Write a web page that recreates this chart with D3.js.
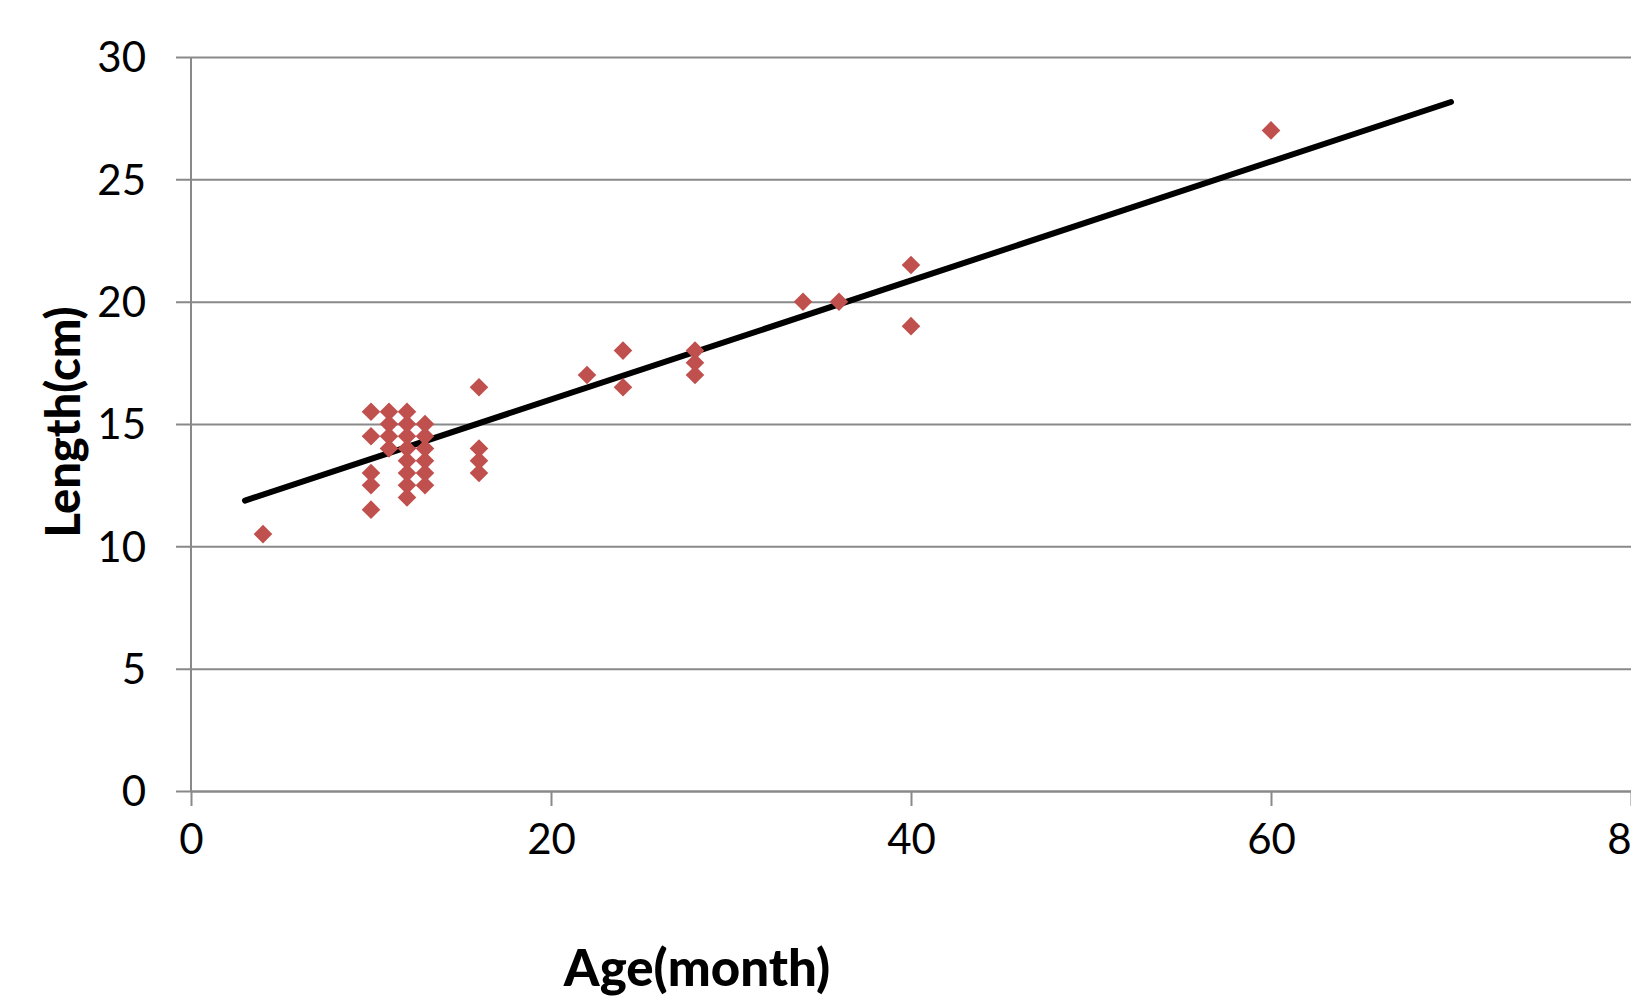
<!DOCTYPE html>
<html>
<head>
<meta charset="utf-8">
<script src="https://cdn.jsdelivr.net/npm/d3@7"></script>
<style>
  body { margin: 0; background: #fff; }
  svg text { font-family: Lato, "Open Sans", sans-serif; fill: #000; }
</style>
</head>
<body>
<div id="chart"></div>
<script>
// age (months) and length (cm) per fish
const ages = [4,
  10, 10, 10, 10, 10,
  11, 11, 11, 11,
  12, 12, 12, 12, 12, 12, 12, 12,
  13, 13, 13, 13, 13, 13,
  16, 16, 16, 16,
  22, 24, 24, 28, 28, 28, 34, 36, 40, 40, 60];
const lengths = [10.5,
  15.5, 14.5, 13, 12.5, 11.5,
  15.5, 15, 14.5, 14,
  15.5, 15, 14.5, 14, 13.5, 13, 12.5, 12,
  15, 14.5, 14, 13.5, 13, 12.5,
  16.5, 14, 13.5, 13,
  17, 18, 16.5, 18, 17.5, 17, 20, 20, 21.5, 19, 27];

// linear trendline, drawn from x = 3 to x = 70
const trendX = [3, 70];
const trendY = [11.87, 28.16];

const xTicks = [0, 20, 40, 60, 80];
const yTicks = [0, 5, 10, 15, 20, 25, 30];

const W = 1631, H = 997;
const mLeft = 191, mTop = 57, mBottom = 791, mRight = 1631;

const svg = d3.select("#chart").append("svg")
  .attr("width", W)
  .attr("height", H);

const x = d3.scaleLinear().domain([0, 80]).range([mLeft, mRight]);
const y = d3.scaleLinear().domain([0, 30]).range([mBottom, mTop]);

const grey = "#898989";

// horizontal gridlines + left ticks
const yAxis = svg.append("g")
  .attr("transform", `translate(${mLeft},0)`)
  .call(d3.axisLeft(y).tickValues(yTicks).tickSize(-(mRight - mLeft)).tickSizeOuter(0).tickPadding(45));
yAxis.select(".domain").remove();
yAxis.selectAll(".tick line")
  .attr("x1", -15)
  .attr("stroke", grey)
  .attr("stroke-width", 2);
yAxis.selectAll(".tick text")
  .style("font-size", "42px")
  .attr("dy", "0.35em");

// x axis
const xAxis = svg.append("g")
  .attr("transform", `translate(0,${mBottom})`)
  .call(d3.axisBottom(x).tickValues(xTicks).tickSize(15).tickSizeOuter(0).tickPadding(18));
xAxis.select(".domain").attr("stroke", grey).attr("stroke-width", 2);
xAxis.selectAll(".tick line").attr("stroke", grey).attr("stroke-width", 2);
xAxis.selectAll(".tick text")
  .style("font-size", "42px")
  .attr("dy", "0.71em");

// vertical axis line
svg.append("line")
  .attr("x1", mLeft).attr("x2", mLeft)
  .attr("y1", y(30)).attr("y2", mBottom)
  .attr("stroke", grey)
  .attr("stroke-width", 2);

svg.selectAll("text").attr("font-family", "Lato, 'Open Sans', sans-serif");

// trendline
svg.append("line")
  .attr("x1", x(trendX[0])).attr("y1", y(trendY[0]))
  .attr("x2", x(trendX[1])).attr("y2", y(trendY[1]))
  .attr("stroke", "#000")
  .attr("stroke-width", 6)
  .attr("stroke-linecap", "round");

// diamond markers
const diamond = d3.symbol().type(d3.symbolDiamond2).size(220);
svg.append("g")
  .selectAll("path")
  .data(ages.map((a, i) => [a, lengths[i]]))
  .join("path")
  .attr("d", diamond)
  .attr("transform", d => `translate(${x(d[0])},${y(d[1])})`)
  .attr("fill", "#C0504D");

// axis titles
svg.append("text")
  .attr("x", 697)
  .attr("y", 986)
  .attr("text-anchor", "middle")
  .style("font-size", "51px")
  .style("font-weight", "900")
  .text("Age(month)");

svg.append("text")
  .attr("transform", "translate(80,422) rotate(-90)")
  .attr("text-anchor", "middle")
  .style("font-size", "47px")
  .style("font-weight", "900")
  .text("Length(cm)");
</script>
</body>
</html>
